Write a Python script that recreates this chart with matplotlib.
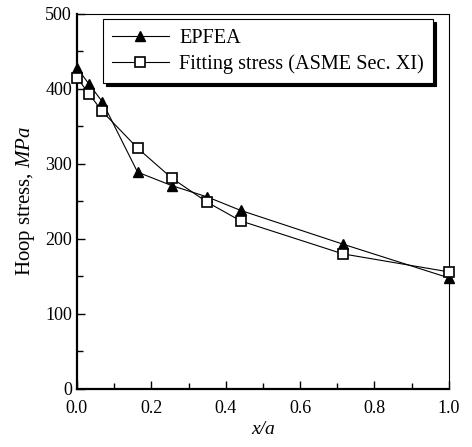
import numpy as np
import matplotlib.pyplot as plt
from matplotlib.ticker import MultipleLocator

# data
x_epfea = [0.0, 0.033, 0.068, 0.163, 0.255, 0.35, 0.44, 0.715, 1.0]
s_epfea = [428, 406, 383, 289, 271, 256, 238, 193, 148]
x_fit = [0.0, 0.033, 0.068, 0.163, 0.255, 0.35, 0.44, 0.715, 1.0]
s_fit = [415, 393, 370, 321, 281, 249, 224, 180, 156]

plt.rcParams['font.family'] = ['Liberation Serif', 'DejaVu Serif']
plt.rcParams['mathtext.fontset'] = 'custom'
plt.rcParams['mathtext.it'] = 'Liberation Serif:italic'
plt.rcParams['mathtext.rm'] = 'Liberation Serif'

fig = plt.figure(figsize=(4.72, 4.47), dpi=100)
ax = fig.add_axes([0.163, 0.130, 0.788, 0.839])

ax.plot(x_epfea, s_epfea, '-', color='black', lw=0.8, marker='^', ms=7,
        mfc='black', mec='black', label='EPFEA', zorder=3, clip_on=False)
ax.plot(x_fit, s_fit, '-', color='black', lw=0.8, marker='s', ms=6.5,
        mfc='white', mec='black', mew=1.2, label='Fitting stress (ASME Sec. XI)',
        zorder=4, clip_on=False)

ax.set_xlim(0, 1.0)
ax.set_ylim(0, 500)
ax.set_xticks([0, 0.2, 0.4, 0.6, 0.8, 1.0])
ax.set_xticklabels(['0.0', '0.2', '0.4', '0.6', '0.8', '1.0'])
ax.xaxis.set_minor_locator(MultipleLocator(0.1))
ax.yaxis.set_major_locator(MultipleLocator(100))
ax.yaxis.set_minor_locator(MultipleLocator(50))
ax.tick_params(which='major', direction='in', length=6, width=1, labelsize=13, top=False, right=False)
ax.tick_params(which='minor', direction='in', length=4, width=1, top=False, right=False)
ax.tick_params(axis='x', pad=8)
for s in ['left', 'bottom']:
    ax.spines[s].set_linewidth(1.6)
for s in ['top', 'right']:
    ax.spines[s].set_linewidth(0.8)

ax.set_xlabel('x/a', fontsize=14, style='italic', labelpad=3)
ax.set_ylabel('Hoop stress, $\\mathit{MPa}$', fontsize=15, labelpad=6)

leg = ax.legend(loc='upper left', bbox_to_anchor=(0.07, 0.985), fontsize=14.6,
                frameon=True, fancybox=False, shadow={'color': 'black', 'alpha': 1},
                edgecolor='black', borderpad=0.45, labelspacing=0.3,
                handlelength=2.8, handletextpad=0.5, borderaxespad=0)
leg.get_frame().set_linewidth(0.8)

plt.savefig('out.png', dpi=100)
